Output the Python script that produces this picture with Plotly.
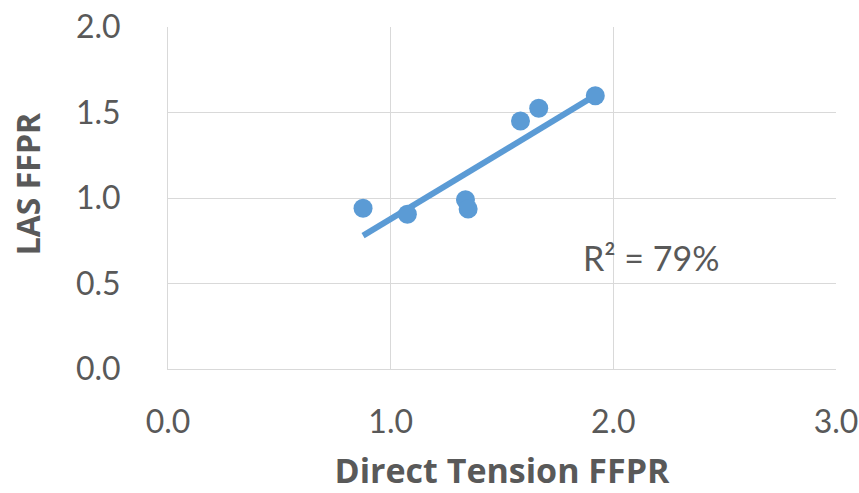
import numpy as np
import plotly.graph_objects as go

# Fatigue-failure performance ratios: direct tension vs LAS
direct_tension_ffpr = [0.876, 1.075, 1.336, 1.348, 1.583, 1.665, 1.919]
las_ffpr = [0.94, 0.905, 0.99, 0.936, 1.45, 1.525, 1.598]

x_ticks = [0.0, 1.0, 2.0, 3.0]
y_ticks = [0.0, 0.5, 1.0, 1.5, 2.0]

x = np.array(direct_tension_ffpr)
y = np.array(las_ffpr)
slope, intercept = np.polyfit(x, y, 1)
fit_x = np.array([x.min(), x.max()])
fit_y = slope * fit_x + intercept
r2 = np.corrcoef(x, y)[0, 1] ** 2

blue = "#5B9BD5"
grid = "#D9D9D9"
text_grey = "#595959"

fig = go.Figure()
fig.add_trace(go.Scatter(
    x=fit_x, y=fit_y, mode="lines",
    line=dict(color=blue, width=6), hoverinfo="skip", showlegend=False,
))
fig.add_trace(go.Scatter(
    x=direct_tension_ffpr, y=las_ffpr, mode="markers",
    marker=dict(color=blue, size=19, line=dict(width=0)), showlegend=False,
))

fig.add_annotation(
    x=2.17, y=0.655, xref="x", yref="y",
    text=f"R² = {r2 * 100:.0f}%", showarrow=False,
    font=dict(family="Lato", size=34, color=text_grey),
    xanchor="center", yanchor="middle",
)

# y-axis title, placed a little above the plot's vertical centre
fig.add_annotation(
    x=0, xref="paper", xshift=-141, xanchor="center",
    y=1.08, yref="y", yanchor="middle",
    text="<b>LAS FFPR</b>", textangle=-90, showarrow=False,
    font=dict(family="Open Sans", size=32, color=text_grey),
)

fig.update_layout(
    width=859, height=493,
    margin=dict(l=168, r=23, t=27, b=124),
    paper_bgcolor="white", plot_bgcolor="white",
    font=dict(family="Lato", color=text_grey),
)
fig.update_xaxes(
    range=[0, 3], tickvals=x_ticks, ticktext=[f"{v:.1f}" for v in x_ticks],
    showgrid=True, gridcolor=grid, gridwidth=1,
    showline=True, linecolor=grid, linewidth=1, mirror=False,
    zeroline=False, ticks="", ticklabelstandoff=25, automargin=False,
    tickfont=dict(family="Lato", size=32, color=text_grey),
    title=dict(text="<b>Direct Tension FFPR</b>", standoff=27,
               font=dict(family="Open Sans", size=34, color=text_grey)),
)
fig.update_yaxes(
    range=[0, 2], tickvals=y_ticks, ticktext=[f"{v:.1f}" for v in y_ticks],
    showgrid=True, gridcolor=grid, gridwidth=1,
    showline=True, linecolor=grid, linewidth=1,
    zeroline=False, ticks="", ticklabelstandoff=40, automargin=False,
    tickfont=dict(family="Lato", size=32, color=text_grey),
)

fig.write_html("out.html")
